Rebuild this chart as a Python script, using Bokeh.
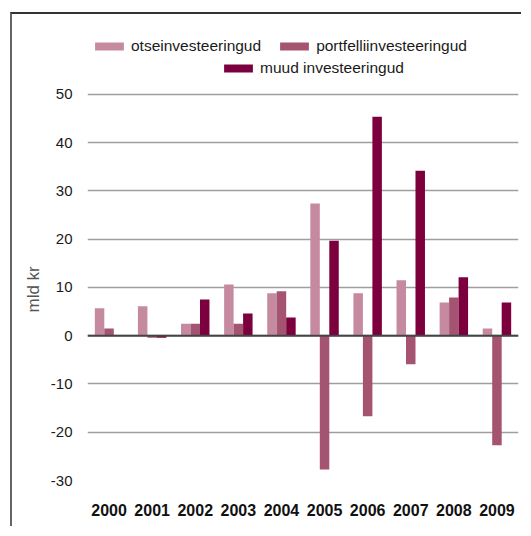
from bokeh.plotting import figure
from bokeh.models import ColumnDataSource, FactorRange, Range1d, FixedTicker, Legend, LegendItem, Span, Title
from bokeh.transform import dodge
from bokeh.embed import file_html
from bokeh.resources import INLINE

years = ["2000", "2001", "2002", "2003", "2004", "2005", "2006", "2007", "2008", "2009"]
otse = [5.7, 6.1, 2.5, 10.6, 8.8, 27.4, 8.8, 11.5, 6.9, 1.5]
portfell = [1.5, -0.4, 2.5, 2.5, 9.2, -27.7, -16.7, -5.9, 7.9, -22.7]
muud = [0.0, -0.4, 7.5, 4.6, 3.8, 19.7, 45.4, 34.2, 12.1, 6.9]
series_names = ["otseinvesteeringud", "portfelliinvesteeringud", "muud investeeringud"]
colors = ["#c58aa0", "#a45371", "#7d003e"]
y_ticks = [-30, -20, -10, 0, 10, 20, 30, 40, 50]
y_title = "mld kr"

FONT = "Liberation Sans"

src = ColumnDataSource(dict(year=years, otse=otse, portfell=portfell, muud=muud))

p = figure(
    x_range=FactorRange(*years), y_range=Range1d(-30, 64.5),
    width=511, height=514, output_backend="svg", toolbar_location=None,
    min_border_left=75, min_border_right=5, min_border_top=10, min_border_bottom=48,
)
# surrounding box: left and top edges
p.margin = (12, 0, 0, 10)
p.styles = {"border-left": "2px solid #666666", "border-top": "2px solid #333333"}
p.outline_line_color = None
p.background_fill_color = "white"
p.border_fill_color = "white"

bw = 0.22
rs = []
for off, col, c in zip([-bw, 0.0, bw], ["otse", "portfell", "muud"], colors):
    r = p.vbar(x=dodge("year", off, range=p.x_range), top=col, bottom=0, width=bw,
               source=src, fill_color=c, line_color=None)
    rs.append(r)

p.add_layout(Span(location=0, dimension="width", line_color="#444444", line_width=2))

p.xgrid.grid_line_color = None
p.ygrid.grid_line_color = "#9e9e9e"
p.ygrid.grid_line_width = 1.5

p.yaxis.ticker = FixedTicker(ticks=y_ticks)
p.yaxis.major_label_overrides = {t: str(t) for t in y_ticks}
p.yaxis.axis_line_color = None
p.yaxis.major_tick_line_color = None
p.yaxis.minor_tick_line_color = None
p.yaxis.major_tick_in = 0
p.yaxis.major_tick_out = 0
p.yaxis.major_label_standoff = 15
p.yaxis.major_label_text_font = FONT
p.yaxis.major_label_text_font_size = "15px"
p.yaxis.major_label_text_color = "#1a1a1a"

# axis title, centred on the -30..50 extent of the value axis
p.add_layout(Title(text=y_title, align="left", offset=168, vertical_align="middle",
                   text_font=FONT, text_font_size="17px", text_font_style="normal",
                   text_color="#555555", standoff=7), "left")

p.xaxis.axis_line_color = None
p.xaxis.major_tick_line_color = None
p.xaxis.major_tick_in = 0
p.xaxis.major_tick_out = 0
p.xaxis.major_label_standoff = 23
p.xaxis.major_label_text_font = FONT
p.xaxis.major_label_text_font_size = "16px"
p.xaxis.major_label_text_font_style = "bold"
p.xaxis.major_label_text_color = "#111111"

def make_legend(items, loc):
    return Legend(items=items, location=loc, orientation="horizontal",
                  glyph_width=36, glyph_height=10, label_standoff=4, spacing=15,
                  padding=0, margin=0, border_line_color=None, background_fill_alpha=0,
                  label_text_font=FONT, label_text_font_size="15.5px", label_text_color="#1a1a1a")

leg1 = make_legend([LegendItem(label=series_names[0], renderers=[rs[0]]),
                    LegendItem(label=series_names[1], renderers=[rs[1]])], (4, 425))
leg2 = make_legend([LegendItem(label=series_names[2], renderers=[rs[2]])], (133, 403))
p.add_layout(leg1)
p.add_layout(leg2)

open("out.html", "w").write(file_html(p, INLINE))
